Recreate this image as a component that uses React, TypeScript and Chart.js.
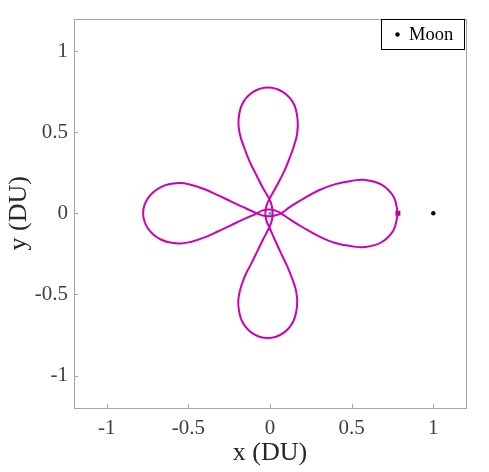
import React, { useEffect, useRef } from 'react';
import { Chart, registerables } from 'chart.js';

Chart.register(...registerables);

// Horizontal pair of petals (right + left), traversed from the start square
const loopHX = [0.783, 0.756, 0.68, 0.58, 0.5, 0.4, 0.3, 0.2, 0.12, 0.067, 0.03, -0.005, -0.045, -0.08,
  -0.16, -0.24, -0.32, -0.40, -0.48, -0.56, -0.665, -0.746, -0.777, -0.746, -0.665, -0.56,
  -0.48, -0.40, -0.32, -0.24, -0.16, -0.08, -0.045, -0.005, 0.03, 0.067,
  0.12, 0.2, 0.3, 0.4, 0.5, 0.58, 0.68, 0.756, 0.783];
const loopHY = [0.0, 0.103, 0.178, 0.206, 0.2, 0.18, 0.142, 0.088, 0.038, 0.0, -0.014, -0.018, -0.013, 0.0,
  0.036, 0.074, 0.112, 0.148, 0.175, 0.186, 0.163, 0.095, 0.0, -0.095, -0.163, -0.186,
  -0.175, -0.148, -0.112, -0.074, -0.036, 0.0, 0.018, 0.023, 0.018, 0.0,
  -0.036, -0.086, -0.142, -0.183, -0.203, -0.208, -0.18, -0.104, 0.0];

// Vertical pair of petals (top + bottom)
const loopVX = [-0.029, -0.022, -0.004, 0.047, 0.088, 0.118, 0.145, 0.166, 0.169, 0.145, 0.078, -0.012, -0.103,
  -0.169, -0.193, -0.185, -0.16, -0.125, -0.086, -0.045, -0.004, 0.011, 0.016, 0.011, -0.004,
  -0.042, -0.078, -0.115, -0.155, -0.185, -0.194, -0.17, -0.104, -0.014, 0.076, 0.142, 0.166,
  0.16, 0.135, 0.105, 0.067, 0.028, -0.004, -0.022, -0.029];
const loopVY = [0.0, 0.045, 0.088, 0.18, 0.261, 0.335, 0.41, 0.49, 0.575, 0.675, 0.748, 0.775, 0.748,
  0.675, 0.575, 0.49, 0.41, 0.32, 0.241, 0.159, 0.088, 0.045, 0.0, -0.045, -0.086,
  -0.16, -0.235, -0.31, -0.39, -0.48, -0.565, -0.667, -0.742, -0.769, -0.742, -0.667, -0.565,
  -0.48, -0.40, -0.325, -0.245, -0.16, -0.086, -0.045, 0.0];

const startX = [0.783];
const startY = [0.0];
const earthX = [0.0];
const earthY = [0.0];
const moonX = [1.0];
const moonY = [0.0];

const tickValues = [-1, -0.5, 0, 0.5, 1];
const tickLabels = ['-1', '-0.5', '0', '0.5', '1'];

const zip = (xs: number[], ys: number[]) => xs.map((x, i) => ({ x, y: ys[i] }));

const SERIF = '"Liberation Serif", "DejaVu Serif", serif';
const AXIS_GRAY = '#a6a6a6';
const ORBIT = '#cc00b4';

const framePlugin = {
  id: 'frame',
  afterDraw(chart: any) {
    const { ctx, chartArea } = chart;
    const { left, right, top, bottom } = chartArea;
    const xs = chart.scales.x;
    const ys = chart.scales.y;
    ctx.save();
    ctx.strokeStyle = AXIS_GRAY;
    ctx.lineWidth = 1;
    ctx.strokeRect(Math.round(left) + 0.5, Math.round(top) + 0.5, Math.round(right - left), Math.round(bottom - top));
    ctx.beginPath();
    tickValues.forEach((v) => {
      const px = Math.round(xs.getPixelForValue(v)) + 0.5;
      ctx.moveTo(px, Math.round(bottom));
      ctx.lineTo(px, Math.round(bottom) - 4);
      const py = Math.round(ys.getPixelForValue(v)) + 0.5;
      ctx.moveTo(Math.round(left), py);
      ctx.lineTo(Math.round(left) + 4, py);
    });
    ctx.stroke();

    // legend box
    const moon = chart.data.datasets.find((d: any) => d.label === 'Moon');
    if (moon) {
      const bx = 381, by = 19, bw = 83, bh = 30;
      ctx.fillStyle = '#ffffff';
      ctx.fillRect(bx, by, bw, bh);
      ctx.strokeStyle = '#000000';
      ctx.lineWidth = 1;
      ctx.strokeRect(bx + 0.5, by + 0.5, bw, bh);
      ctx.fillStyle = '#000000';
      ctx.beginPath();
      ctx.arc(397.5, 34.5, 2.2, 0, Math.PI * 2);
      ctx.fill();
      ctx.font = `18.5px ${SERIF}`;
      ctx.textBaseline = 'middle';
      ctx.textAlign = 'left';
      ctx.fillText(moon.label, 409, 35);
    }
    ctx.restore();
  },
};

const tickCallback = (v: any) => {
  const i = tickValues.indexOf(Number(v));
  return i >= 0 ? tickLabels[i] : String(v);
};

export default function App() {
  const ref = useRef<HTMLCanvasElement | null>(null);

  useEffect(() => {
    if (!ref.current) return;
    const chart = new Chart(ref.current, {
      type: 'scatter',
      data: {
        datasets: [
          {
            label: 'orbitH',
            data: zip(loopHX, loopHY),
            showLine: true,
            borderColor: ORBIT,
            borderWidth: 2,
            pointRadius: 0,
            tension: 0.4,
            fill: false,
          },
          {
            label: 'orbitV',
            data: zip(loopVX, loopVY),
            showLine: true,
            borderColor: ORBIT,
            borderWidth: 2,
            pointRadius: 0,
            tension: 0.4,
            fill: false,
          },
          {
            label: 'start',
            data: zip(startX, startY),
            pointStyle: 'rect',
            pointRadius: 3.5,
            backgroundColor: '#b5009a',
            borderColor: '#b5009a',
            borderWidth: 0,
          },
          {
            label: 'Earth',
            data: zip(earthX, earthY),
            pointRadius: 1.6,
            backgroundColor: '#00c8e0',
            borderColor: '#00c8e0',
            borderWidth: 0,
          },
          {
            label: 'Moon',
            data: zip(moonX, moonY),
            pointRadius: 2.2,
            backgroundColor: '#000000',
            borderColor: '#000000',
            borderWidth: 0,
          },
        ],
      },
      options: {
        animation: false,
        responsive: true,
        maintainAspectRatio: false,
        layout: { padding: { top: 16, right: 23, left: 0, bottom: 0 } },
        plugins: { legend: { display: false }, tooltip: { enabled: false } },
        scales: {
          x: {
            type: 'linear',
            min: -1.2,
            max: 1.2,
            afterBuildTicks: (s: any) => { s.ticks = tickValues.map((v) => ({ value: v })); },
            afterFit: (s: any) => { s.height = 64; },
            grid: { display: false, drawTicks: false, tickLength: 0 },
            border: { display: false },
            ticks: {
              padding: 8,
              color: '#404040',
              font: { family: SERIF, size: 21 },
              callback: tickCallback,
            },
            title: {
              display: true,
              text: 'x (DU)',
              color: '#262626',
              font: { family: SERIF, size: 26 },
              padding: { top: 0, bottom: 3.5 },
            },
          },
          y: {
            type: 'linear',
            min: -1.2,
            max: 1.2,
            afterBuildTicks: (s: any) => { s.ticks = tickValues.map((v) => ({ value: v })); },
            afterFit: (s: any) => { s.width = 74; },
            grid: { display: false, drawTicks: false, tickLength: 0 },
            border: { display: false },
            ticks: {
              padding: 6,
              color: '#404040',
              font: { family: SERIF, size: 21 },
              callback: tickCallback,
            },
            title: {
              display: true,
              text: 'y (DU)',
              color: '#262626',
              font: { family: SERIF, size: 26 },
              padding: { top: 4, bottom: 0 },
            },
          },
        },
      },
      plugins: [framePlugin],
    });
    return () => chart.destroy();
  }, []);

  return (
    <div style={{ position: 'fixed', left: 0, top: 0, width: 489, height: 472, background: '#ffffff' }}>
      <canvas ref={ref} />
    </div>
  );
}
